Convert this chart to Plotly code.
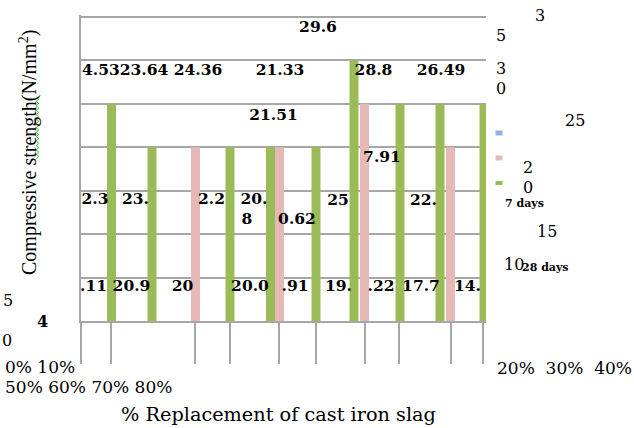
import plotly.graph_objects as go

# ---- data ----
green_x = [3.05, 7.1, 14.9, 18.95, 23.5, 27.3, 31.9, 35.9, 40.3]
green_vals = [25, 20, 20, 20, 20, 30, 25, 25, 25]
pink_x = [11.45, 19.85, 28.35, 36.95]
pink_vals = [20, 20, 25, 20]
tick_x = [0, 3.0, 11.4, 14.9, 19.8, 23.5, 28.4, 31.8, 37.0, 40.2]

label_text = ["29.6", "28.8", "4.5323.64 24.36", "21.33", "26.49", "21.51",
              "2.3", "23.", "2.2", "20.", "8", "0.62", "7.91", "25", "22.",
              ".11", "20.9", "20", "20.0", ".91", "19.", ".22", "17.7", "14."]
label_x = [23.7, 29.25, 0.1, 19.9, 36.0, 19.25,
           1.4, 5.45, 13.05, 17.3, 16.6, 21.6, 30.1, 25.7, 34.25,
           1.25, 5.05, 10.15, 16.9, 21.4, 25.75, 30.0, 34.0, 38.65]
label_y = [33.7, 28.8, 28.8, 28.8, 28.8, 23.6,
           13.9, 13.9, 13.9, 13.9, 11.6, 11.6, 18.8, 13.8, 13.8,
           3.9, 3.9, 3.9, 3.9, 3.9, 3.9, 3.9, 3.9, 3.9]

GREEN = "#9bbb59"
PINK = "#e6b9b8"
BLUE = "#95b3d7"
GRID = "#a6a6a6"
SERIF = "Liberation Serif"
WIDE = "DejaVu Serif"

fig = go.Figure()
fig.add_trace(go.Bar(x=green_x, y=green_vals, width=0.9, marker=dict(color=GREEN, line=dict(width=0)),
                     cliponaxis=False, showlegend=False, hoverinfo="skip"))
fig.add_trace(go.Bar(x=pink_x, y=pink_vals, width=0.9, marker=dict(color=PINK, line=dict(width=0)),
                     cliponaxis=False, showlegend=False, hoverinfo="skip"))
pos = ["middle right" if t.startswith("4.53") else "middle center" for t in label_text]
fig.add_trace(go.Scatter(x=label_x, y=label_y, mode="text", text=label_text, textposition=pos,
                         textfont=dict(family=WIDE, size=15.5, color="black", weight="bold"),
                         cliponaxis=False, showlegend=False, hoverinfo="skip"))

W, H = 634, 428
L, R, T, B = 81, 486, 17, 321
T_PLOT = 15  # plot top slightly above the 35 gridline so that gridline is drawn


def px(x):
    return (x - L) / (R - L)


def py(y):
    return (B - y) / (B - T_PLOT)


ann = []


def add(text, x, y, size=16, bold=False, xanchor="center", angle=0, family=WIDE):
    ann.append(dict(text=text, x=px(x), y=py(y), xref="paper", yref="paper", showarrow=False,
                    xanchor=xanchor, yanchor="middle", textangle=angle,
                    font=dict(family=family, size=size, color="black", weight="bold" if bold else "normal")))


NB = "\u00a0"
add("Compressive strength(N/mm<sup>2</sup>)", 29, 153, size=20, angle=-90, family=SERIF)
add("% Replacement of cast iron slag", 278, 414, size=19.3)
add("5", 8, 300)
add("4", 42, 321, bold=True)
add("0", 7, 340)
add("0% 10%", 3, 367, size=17, xanchor="left")
add("50% 60% 70% 80%", 3, 387, size=17, xanchor="left")
add("20%" + NB * 2 + "30%" + NB * 2 + "40%", 495, 368, size=17, xanchor="left")
add("3", 540, 16)
add("5", 501, 36)
add("3", 501, 68)
add("0", 501, 88)
add("25", 575, 120)
add("2", 528, 167)
add("0", 528, 187)
add("7 days", 503, 203, size=11, bold=True, xanchor="left")
add("15", 547, 232)
add("10", 502, 264, size=16, xanchor="left")
add("28 days", 520, 267, size=11, bold=True, xanchor="left")

shapes = []
for (cy, col, h) in [(133, BLUE, 5), (158, PINK, 5), (183, GREEN, 4)]:
    shapes.append(dict(type="rect", xref="paper", yref="paper", x0=px(495.5), x1=px(502.5),
                       y0=py(cy + h / 2), y1=py(cy - h / 2), fillcolor=col, line=dict(width=0)))

# spell-check style green squiggle under "strength"
pts = []
yy, k = 97.0, 0
while yy <= 160:
    pts.append((37.5 + (1.3 if k % 2 else -1.3), yy))
    yy += 2.2
    k += 1
path = "M " + " L ".join(f"{px(a):.5f},{py(b):.5f}" for a, b in pts)
shapes.append(dict(type="path", xref="paper", yref="paper", path=path,
                   line=dict(color="#4caf3a", width=1)))

y_max = 35 * (B - T_PLOT) / (B - T)

fig.update_layout(
    width=W, height=H,
    margin=dict(l=L, r=W - R, t=T_PLOT, b=H - B, pad=0),
    paper_bgcolor="white", plot_bgcolor="white",
    barmode="overlay",
    annotations=ann, shapes=shapes,
    xaxis=dict(range=[0, 40.5], showgrid=False, zeroline=False, showline=True, linecolor=GRID, linewidth=1.5,
               tickmode="array", tickvals=tick_x, ticktext=[""] * len(tick_x), ticks="outside", ticklen=41,
               tickcolor=GRID, tickwidth=1.5, fixedrange=True),
    yaxis=dict(range=[0, y_max], dtick=5, showgrid=True, gridcolor=GRID, gridwidth=1.5, zeroline=False,
               showline=True, linecolor=GRID, linewidth=1.5, showticklabels=False, ticks="", fixedrange=True),
)

fig.write_html("out.html", config={"displayModeBar": False},
               post_script="document.body.style.margin='0px';document.body.style.overflow='hidden';")
